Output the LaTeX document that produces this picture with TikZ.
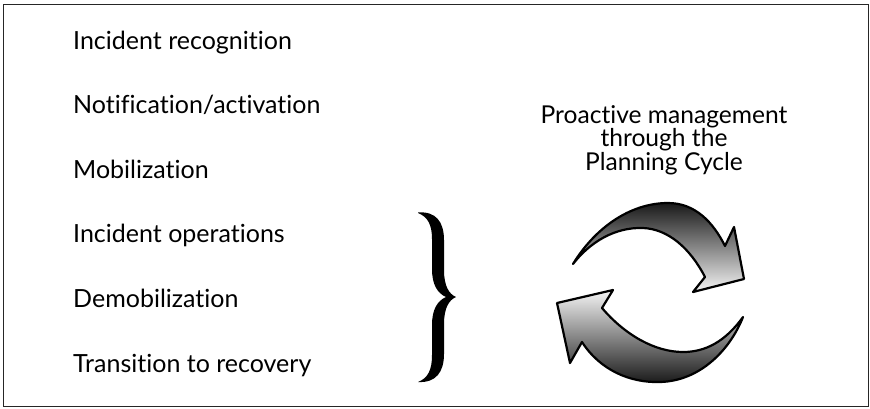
\documentclass[tikz,border=0pt]{standalone}
\usepackage{fontspec}
\setmainfont[Ligatures={NoCommon}]{Lato}

\tikzset{
  fase/.style={anchor=base west, inner sep=0pt, font=\fontsize{25}{27}\selectfont},
  titolo/.style={anchor=north, inner sep=0pt, align=center, font=\fontsize{24.6}{21.3}\selectfont},
  freccia/.style={draw=black, line width=2.2pt, line join=round, shading angle=60}
}

\begin{document}
\begin{tikzpicture}[x=1pt,y=-1pt]
        \useasboundingbox (0,0) rectangle (870,408);
        % Cornice
        \draw[line width=1.5pt, black!85] (3.5,4.5) rectangle (868.5,406.5);
        % Fasi
        \foreach \t [count=\i] in {Incident recognition,Notification/activation,Mobilization,Incident operations,Demobilization,Transition to recovery}
          \node[fase] (f\i) at (73,{49+64.6*(\i-1)}) {\t};
        % Graffa
        \fill (418,212.5) .. controls (436,211) and (444,222) .. (444,240)
          -- (444,270) .. controls (444,286) and (449,294) .. (456,297)
          .. controls (449,300) and (444,308) .. (444,324)
          -- (444,354) .. controls (444,372) and (436,383) .. (418,382)
          .. controls (428,378) and (432,370) .. (432,355)
          -- (432,325) .. controls (432,310) and (437,301) .. (446,297)
          .. controls (437,293) and (432,284) .. (432,269)
          -- (432,239) .. controls (432,225) and (428,217) .. (418,213) -- cycle;
        % Titolo
        \node[titolo] (ciclo) at (664,105) {Proactive management\\through the\\Planning Cycle};
        % Freccia alta
        \shade[freccia, top color=black!90, bottom color=gray!8]
          (573,264) .. controls (595,228) and (630,203) .. (668,203)
          .. controls (695,203) and (713,222) .. (725,246)
          -- (734,227) -- (744,279) -- (693,292) -- (705,277)
          .. controls (690,248) and (668,229) .. (643,228)
          .. controls (615,227) and (590,242) .. (573,264) -- cycle;
        % Freccia bassa
        \shade[freccia, top color=gray!8, bottom color=black!90]
          (743,317) .. controls (725,342) and (705,352) .. (683,352)
          .. controls (655,352) and (625,335) .. (602,308)
          -- (613,290) -- (557,303) -- (570,363) -- (582,342)
          .. controls (600,370) and (630,383) .. (660,382)
          .. controls (700,381) and (730,350) .. (743,317) -- cycle;
    \end{tikzpicture}
\end{document}
